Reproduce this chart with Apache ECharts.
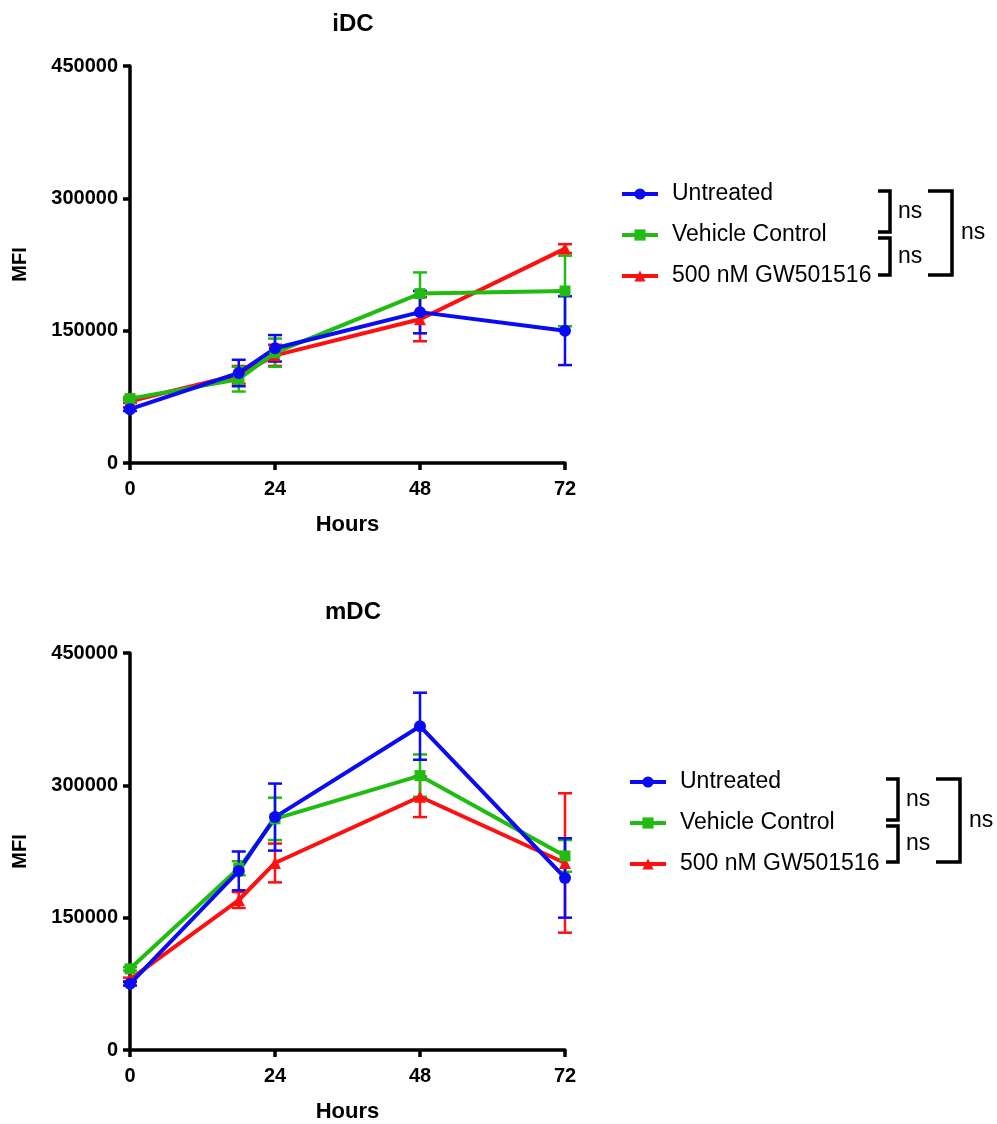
<!DOCTYPE html>
<html>
<head>
<meta charset="utf-8">
<script src="https://cdn.jsdelivr.net/npm/echarts@6/dist/echarts.min.js"></script>
<style>
  html, body { margin: 0; padding: 0; background: #fff; }
  #chart { width: 997px; height: 1124px; }
</style>
</head>
<body>
<div id="chart"></div>
<script>
// time points (hours)
const hours = [0, 18, 24, 48, 72];
const xTicks = [0, 24, 48, 72];
const yTicks = [0, 150000, 300000, 450000];

// iDC
const idcUntreated = [61000, 102000, 130000, 171000, 150000];
const idcUntreatedErr = [2000, 15000, 15000, 24000, 39000];
const idcVehicle = [73000, 95000, 125000, 192000, 195000];
const idcVehicleErr = [2000, 14000, 16000, 24000, 40000];
const idcGW = [70000, 100000, 122000, 163000, 243000];
const idcGWErr = [2000, 10000, 12000, 25000, 5000];

// mDC
const mdcUntreated = [75000, 203000, 264000, 367000, 195000];
const mdcUntreatedErr = [2000, 22000, 38000, 38000, 45000];
const mdcVehicle = [92000, 206000, 262000, 311000, 220000];
const mdcVehicleErr = [2000, 8000, 24000, 24000, 18000];
const mdcGW = [80000, 170000, 212000, 287000, 212000];
const mdcGWErr = [2000, 9000, 22000, 23000, 79000];

const names = ['Untreated', 'Vehicle Control', '500 nM GW501516'];
const colors = ['#0a0af5', '#22bb11', '#ff1010'];
const symbols = ['circle', 'rect', 'triangle'];
const FONT = '"Liberation Sans", Arial, sans-serif';

const chart = echarts.init(document.getElementById('chart'));

function lineSeries(idx, values, axis) {
  return {
    name: names[idx],
    type: 'line',
    xAxisIndex: axis,
    yAxisIndex: axis,
    data: hours.map((h, i) => [h, values[i]]),
    symbol: symbols[idx],
    symbolSize: idx === 0 ? 12 : (idx === 1 ? 11 : 12),
    color: colors[idx],
    lineStyle: { width: 4, color: colors[idx] },
    itemStyle: { color: colors[idx] },
    z: 3,
    animation: false
  };
}

function errSeries(idx, values, err, axis) {
  return {
    name: names[idx] + ' err',
    type: 'custom',
    xAxisIndex: axis,
    yAxisIndex: axis,
    data: hours.map((h, i) => [h, values[i] - err[i], values[i] + err[i]]),
    encode: { x: 0, y: [1, 2] },
    z: 3,
    animation: false,
    renderItem: function (params, api) {
      const lo = api.coord([api.value(0), api.value(1)]);
      const hi = api.coord([api.value(0), api.value(2)]);
      const w = 7;
      const st = { stroke: colors[idx], lineWidth: 2.5 };
      return {
        type: 'group',
        children: [
          { type: 'line', shape: { x1: lo[0], y1: lo[1], x2: hi[0], y2: hi[1] }, style: st },
          { type: 'line', shape: { x1: lo[0] - w, y1: lo[1], x2: lo[0] + w, y2: lo[1] }, style: st },
          { type: 'line', shape: { x1: hi[0] - w, y1: hi[1], x2: hi[0] + w, y2: hi[1] }, style: st }
        ]
      };
    }
  };
}

function xAxis(grid) {
  return {
    type: 'value', gridIndex: grid, min: 0, max: 72, interval: 24,
    name: 'Hours', nameLocation: 'middle', nameGap: 51,
    nameTextStyle: { fontFamily: FONT, fontWeight: 'bold', fontSize: 22, color: '#000' },
    axisLine: { show: true, onZero: false, lineStyle: { color: '#000', width: 3.5 } },
    axisTick: { show: true, length: 7, lineStyle: { color: '#000', width: 3.5 } },
    axisLabel: { fontFamily: FONT, fontWeight: 'bold', fontSize: 20, color: '#000', margin: 16,
      formatter: v => xTicks.includes(v) ? String(v) : '' },
    splitLine: { show: false }
  };
}

function yAxis(grid) {
  return {
    type: 'value', gridIndex: grid, min: 0, max: 450000, interval: 150000,
    name: 'MFI', nameLocation: 'middle', nameGap: 100, nameRotate: 90,
    nameTextStyle: { fontFamily: FONT, fontWeight: 'bold', fontSize: 20, color: '#000' },
    axisLine: { show: true, onZero: false, lineStyle: { color: '#000', width: 3.5 } },
    axisTick: { show: true, length: 7, lineStyle: { color: '#000', width: 3.5 } },
    axisLabel: { fontFamily: FONT, fontWeight: 'bold', fontSize: 20, color: '#000', margin: 12,
      formatter: v => yTicks.includes(v) ? String(v) : '' },
    splitLine: { show: false }
  };
}

function legend(left, top) {
  return {
    data: names, orient: 'vertical', left: left, top: top, padding: 0,
    itemWidth: 36, itemHeight: 14, itemGap: 17,
    selectedMode: false,
    lineStyle: { width: 4 },
    textStyle: { fontFamily: FONT, fontSize: 23, color: '#000', padding: [0, 0, 0, 9], lineHeight: 24 }
  };
}

// significance brackets next to the legends
function brackets(dx, y1, y2, y3, y4) {
  const st = { stroke: '#000', lineWidth: 3.5, fill: null };
  const ts = (x, y) => ({ type: 'text', x: x, y: y,
    style: { text: 'ns', font: '23px ' + FONT, fill: '#000', textVerticalAlign: 'middle' } });
  return [
    { type: 'polyline', shape: { points: [[878 + dx, y1], [890 + dx, y1], [890 + dx, y2], [878 + dx, y2]] }, style: st },
    { type: 'polyline', shape: { points: [[878 + dx, y3], [890 + dx, y3], [890 + dx, y4], [878 + dx, y4]] }, style: st },
    { type: 'polyline', shape: { points: [[928 + dx, y1], [952 + dx, y1], [952 + dx, y4], [928 + dx, y4]] }, style: st },
    ts(898 + dx, (y1 + y2) / 2),
    ts(898 + dx, (y3 + y4) / 2),
    ts(961 + dx, (y1 + y4) / 2)
  ];
}

const option = {
  backgroundColor: '#fff',
  animation: false,
  title: [
    { text: 'iDC', left: 348, top: 7, textAlign: 'center',
      textStyle: { fontFamily: FONT, fontWeight: 'bold', fontSize: 24, color: '#000' } },
    { text: 'mDC', left: 348, top: 595, textAlign: 'center',
      textStyle: { fontFamily: FONT, fontWeight: 'bold', fontSize: 24, color: '#000' } }
  ],
  grid: [
    { left: 130, top: 66, width: 435, height: 397 },
    { left: 130, top: 653, width: 435, height: 397 }
  ],
  xAxis: [xAxis(0), xAxis(1)],
  yAxis: [yAxis(0), yAxis(1)],
  legend: [legend(620, 182), legend(628, 770)],
  graphic: brackets(0, 191, 232, 238, 275).concat(brackets(8, 779, 820, 826, 862)),
  series: [
    errSeries(2, idcGW, idcGWErr, 0),
    lineSeries(2, idcGW, 0),
    errSeries(1, idcVehicle, idcVehicleErr, 0),
    lineSeries(1, idcVehicle, 0),
    errSeries(0, idcUntreated, idcUntreatedErr, 0),
    lineSeries(0, idcUntreated, 0),
    errSeries(2, mdcGW, mdcGWErr, 1),
    lineSeries(2, mdcGW, 1),
    errSeries(1, mdcVehicle, mdcVehicleErr, 1),
    lineSeries(1, mdcVehicle, 1),
    errSeries(0, mdcUntreated, mdcUntreatedErr, 1),
    lineSeries(0, mdcUntreated, 1)
  ]
};

chart.setOption(option);
</script>
</body>
</html>
